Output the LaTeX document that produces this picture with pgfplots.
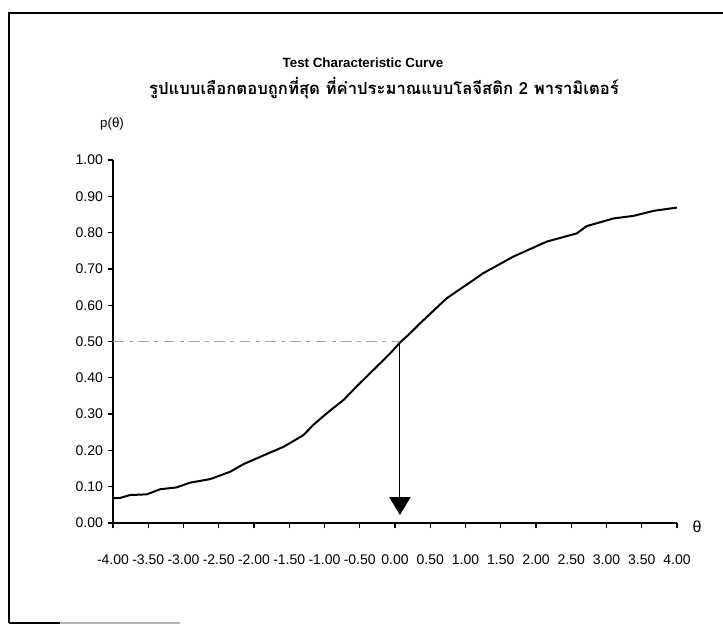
\documentclass[border=0pt]{standalone}
\usepackage{pgfplots}
\pgfplotsset{compat=1.18}
\usepackage{fontspec}
\setmainfont{Liberation Sans}
\newfontfamily\thaifont[Script=Thai]{Loma}
\usetikzlibrary{arrows.meta}
\begin{document}
\begin{tikzpicture}[x=0.75pt,y=0.75pt]
\useasboundingbox (0,0) rectangle (723,625);
% frame
\draw[line width=1.1pt] (9,2) -- (9,612) -- (723,612);
\draw[line width=1.1pt] (9,2) -- (60,2);
\draw[line width=1.1pt, gray!60] (60,2) -- (180,2);
% titles
\node[font=\bfseries\fontsize{10}{12}\selectfont] at (363,562) {Test Characteristic Curve};
\node[font=\thaifont\bfseries\fontsize{12.5}{14}\selectfont] at (384,537) {รูปแบบเลือกตอบถูกที่สุด ที่ค่าประมาณแบบโลจีสติก 2 พารามิเตอร์};
\node[font=\fontsize{10}{12}\selectfont] at (112,501) {p(θ)};
\node[font=\fontsize{12}{14}\selectfont] at (697,98) {θ};
\begin{axis}[
  at={(84.75pt,76.5pt)}, anchor=south west,
  scale only axis, width=423pt, height=272.25pt,
  xmin=-4, xmax=4, ymin=0, ymax=1,
  axis x line=bottom, axis y line=left,
  axis line style={-, line width=1.3pt, black},
  xtick={-4,-3.5,...,4},
  ytick={0,0.1,0.2,0.3,0.4,0.5,0.6,0.7,0.8,0.9,1.0},
  tick align=outside, major tick length=4pt,
  tick style={line width=1pt, black},
  /pgf/number format/assume math mode=true,
  /pgf/number format/fixed, /pgf/number format/fixed zerofill, /pgf/number format/precision=2,
  ticklabel style={font=\fontsize{10.5}{12}\selectfont},
  xticklabel style={yshift=-16pt},
  clip=false,
]
\addplot[black, line width=1.5pt] coordinates {
(-4.00,0.068) (-3.90,0.069) (-3.76,0.077) (-3.52,0.079) (-3.33,0.093)
(-3.10,0.098) (-2.91,0.111) (-2.62,0.121) (-2.34,0.141) (-2.15,0.162)
(-1.82,0.190) (-1.58,0.210) (-1.30,0.242) (-1.16,0.270) (-0.97,0.302)
(-0.73,0.339) (-0.54,0.377) (-0.31,0.421) (-0.07,0.467) (0.07,0.497)
(0.21,0.522) (0.355,0.550) (0.733,0.619) (1.11,0.669) (1.25,0.688)
(1.68,0.734) (2.15,0.775) (2.58,0.798) (2.72,0.818) (3.10,0.839)
(3.38,0.846) (3.67,0.860) (4.00,0.869)
};
\addplot[gray!70, dash pattern=on 8pt off 4pt on 3pt off 4pt, line width=0.7pt] coordinates {(-4,0.5) (0.07,0.5)};
\addplot[black, line width=0.7pt, -{Triangle[width=16pt,length=13.5pt]}] coordinates {(0.07,0.5) (0.07,0.022)};
\end{axis}
\end{tikzpicture}
\end{document}
